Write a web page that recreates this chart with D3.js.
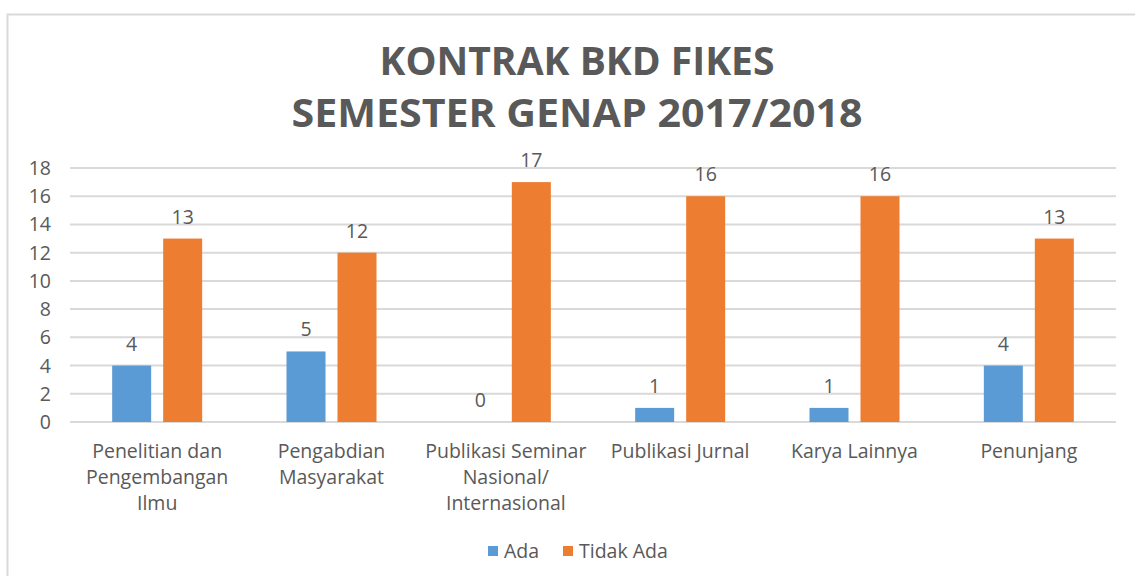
<!DOCTYPE html>
<html>
<head>
  <meta charset="utf-8">
  <script src="https://cdn.jsdelivr.net/npm/d3@7"></script>
  <style>
    body { margin: 0; background: #fff; }
    text { font-family: "Open Sans", sans-serif; fill: #595959; }
  </style>
</head>
<body>
<script>
  // data
  var categories = [
    ["Penelitian dan", "Pengembangan", "Ilmu"],
    ["Pengabdian", "Masyarakat"],
    ["Publikasi Seminar", "Nasional/", "Internasional"],
    ["Publikasi Jurnal"],
    ["Karya Lainnya"],
    ["Penunjang"]
  ];
  var ada = [4, 5, 0, 1, 1, 4];
  var tidakAda = [13, 12, 17, 16, 16, 13];
  var seriesNames = ["Ada", "Tidak Ada"];
  var yTicks = [0, 2, 4, 6, 8, 10, 12, 14, 16, 18];
  var titleLines = ["KONTRAK BKD FIKES", "SEMESTER GENAP 2017/2018"];

  var width = 1135, height = 576;
  var colors = ["#5b9bd5", "#ed7d31"];
  var titleWidths = [395, 571];

  var svg = d3.select("body").append("svg")
    .attr("width", width)
    .attr("height", height);

  // chart border (only top and left visible, runs off the picture)
  svg.append("rect")
    .attr("x", 7.5).attr("y", 14.5)
    .attr("width", width + 20).attr("height", height + 20)
    .attr("fill", "none")
    .attr("stroke", "#d9d9d9")
    .attr("stroke-width", 2);

  // title
  svg.selectAll(".title")
    .data(titleLines)
    .enter().append("text")
    .attr("class", "title")
    .attr("x", 577)
    .attr("y", function(d, i){ return 75 + i * 52; })
    .attr("text-anchor", "middle")
    .attr("textLength", function(d, i){ return titleWidths[i]; })
    .attr("lengthAdjust", "spacingAndGlyphs")
    .style("font-size", "40px")
    .style("font-weight", "bold")
    .text(function(d){ return d; });

  var left = 70, right = 1116;
  var x = d3.scaleBand()
    .domain(d3.range(categories.length))
    .range([left, right]);

  var y = d3.scaleLinear()
    .domain([0, 18])
    .range([422, 168]);

  // gridlines
  svg.append("g")
    .selectAll("line")
    .data(yTicks)
    .enter().append("line")
    .attr("x1", left).attr("x2", right)
    .attr("y1", function(d){ return y(d); })
    .attr("y2", function(d){ return y(d); })
    .attr("stroke", "#d9d9d9")
    .attr("stroke-width", 2);

  // y tick labels
  svg.append("g")
    .selectAll("text")
    .data(yTicks)
    .enter().append("text")
    .attr("x", 51)
    .attr("y", function(d){ return y(d); })
    .attr("dy", "0.36em")
    .attr("text-anchor", "end")
    .style("font-size", "19.5px")
    .text(function(d){ return d; });

  var barW = 39, gap = 12;
  var series = [ada, tidakAda];

  series.forEach(function(vals, s){
    var offset = s === 0 ? -(gap / 2 + barW) : gap / 2;
    var g = svg.append("g");
    g.selectAll("rect")
      .data(vals)
      .enter().append("rect")
      .attr("x", function(d, i){ return x(i) + x.bandwidth() / 2 + offset; })
      .attr("y", function(d){ return y(d); })
      .attr("width", barW)
      .attr("height", function(d){ return y(0) - y(d); })
      .attr("fill", colors[s]);

    g.selectAll("text")
      .data(vals)
      .enter().append("text")
      .attr("x", function(d, i){ return x(i) + x.bandwidth() / 2 + offset + barW / 2; })
      .attr("y", function(d){ return y(d) - 15; })
      .attr("text-anchor", "middle")
      .style("font-size", "19.5px")
      .text(function(d){ return d; });
  });

  // category labels
  var cat = svg.append("g")
    .selectAll("text")
    .data(categories)
    .enter().append("text")
    .attr("x", function(d, i){ return x(i) + x.bandwidth() / 2; })
    .attr("y", 458)
    .attr("text-anchor", "middle")
    .style("font-size", "19.5px");

  cat.selectAll("tspan")
    .data(function(d){ return d; })
    .enter().append("tspan")
    .attr("x", function(){ return d3.select(this.parentNode).attr("x"); })
    .attr("dy", function(d, i){ return i === 0 ? 0 : 26; })
    .text(function(d){ return d; });

  // legend
  var legendX = [488, 563];
  var legend = svg.append("g")
    .selectAll("g")
    .data(seriesNames)
    .enter().append("g")
    .attr("transform", function(d, i){ return "translate(" + legendX[i] + ",551)"; });

  legend.append("rect")
    .attr("x", 0).attr("y", -5)
    .attr("width", 10).attr("height", 10)
    .attr("fill", function(d, i){ return colors[i]; });

  legend.append("text")
    .attr("x", 16)
    .attr("dy", "0.36em")
    .style("font-size", "19.5px")
    .text(function(d){ return d; });
</script>
</body>
</html>
